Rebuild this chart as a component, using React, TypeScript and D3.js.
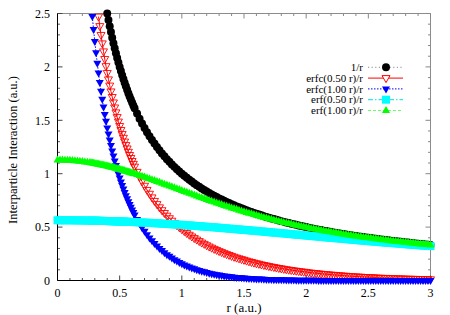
import React from 'react';
import * as d3 from 'd3';

// r grid (a.u.) — denser where the curves are steep
const radius = [
  0, 0.02, 0.04, 0.06, 0.08, 0.1, 0.12, 0.14, 0.16, 0.18, 0.2, 0.22, 0.24, 0.26,
  0.27, 0.28, 0.29, 0.3, 0.31, 0.32, 0.33, 0.34, 0.35, 0.36, 0.37, 0.38, 0.39, 0.4, 0.41, 0.42, 0.43, 0.44,
  0.45, 0.46, 0.47, 0.48, 0.49, 0.5, 0.51, 0.52, 0.53, 0.54, 0.55, 0.56, 0.57, 0.58, 0.59, 0.6, 0.61,
  0.62, 0.64, 0.66, 0.68, 0.7, 0.72, 0.74, 0.76, 0.78, 0.8, 0.82, 0.84, 0.86, 0.88, 0.9, 0.92, 0.94, 0.96, 0.98, 1,
  1.02, 1.04, 1.06, 1.08, 1.1, 1.12, 1.14, 1.16, 1.18, 1.2, 1.22, 1.24, 1.26, 1.28, 1.3, 1.32, 1.34, 1.36, 1.38, 1.4,
  1.42, 1.44, 1.46, 1.48, 1.5, 1.52, 1.54, 1.56, 1.58, 1.6, 1.62, 1.64, 1.66, 1.68, 1.7, 1.72, 1.74, 1.76, 1.78, 1.8,
  1.82, 1.84, 1.86, 1.88, 1.9, 1.92, 1.94, 1.96, 1.98, 2,
  2.02, 2.04, 2.06, 2.08, 2.1, 2.12, 2.14, 2.16, 2.18, 2.2, 2.22, 2.24, 2.26, 2.28, 2.3, 2.32, 2.34, 2.36, 2.38, 2.4,
  2.42, 2.44, 2.46, 2.48, 2.5, 2.52, 2.54, 2.56, 2.58, 2.6, 2.62, 2.64, 2.66, 2.68, 2.7, 2.72, 2.74, 2.76, 2.78, 2.8,
  2.82, 2.84, 2.86, 2.88, 2.9, 2.92, 2.94, 2.96, 2.98, 3,
];

// 1/r  (null = above the 2.5 ceiling)
const inverseR = [
  null, null, null, null, null, null, null, null, null, null, null, null, null, null,
  null, null, null, null, null, null, null, null, null, null, null, null, null, 2.5, 2.439, 2.381, 2.326, 2.273,
  2.222, 2.174, 2.128, 2.083, 2.041, 2, 1.961, 1.923, 1.887, 1.852, 1.818, 1.786, 1.754, 1.724, 1.695, 1.667, 1.639,
  1.613, 1.563, 1.515, 1.471, 1.429, 1.389, 1.351, 1.316, 1.282, 1.25, 1.22, 1.19, 1.163, 1.136, 1.111, 1.087, 1.064, 1.042, 1.02, 1,
  0.98, 0.962, 0.943, 0.926, 0.909, 0.893, 0.877, 0.862, 0.847, 0.833, 0.82, 0.806, 0.794, 0.781, 0.769, 0.758, 0.746, 0.735, 0.725, 0.714,
  0.704, 0.694, 0.685, 0.676, 0.667, 0.658, 0.649, 0.641, 0.633, 0.625, 0.617, 0.61, 0.602, 0.595, 0.588, 0.581, 0.575, 0.568, 0.562, 0.556,
  0.549, 0.543, 0.538, 0.532, 0.526, 0.521, 0.515, 0.51, 0.505, 0.5,
  0.495, 0.49, 0.485, 0.481, 0.476, 0.472, 0.467, 0.463, 0.459, 0.455, 0.45, 0.446, 0.442, 0.439, 0.435, 0.431, 0.427, 0.424, 0.42, 0.417,
  0.413, 0.41, 0.407, 0.403, 0.4, 0.397, 0.394, 0.391, 0.388, 0.385, 0.382, 0.379, 0.376, 0.373, 0.37, 0.368, 0.365, 0.362, 0.36, 0.357,
  0.355, 0.352, 0.35, 0.347, 0.345, 0.342, 0.34, 0.338, 0.336, 0.333,
];

// erfc(0.50 r)/r
const erfcHalf = [
  null, null, null, null, null, null, null, null, null, null, null, null, null, null,
  null, null, null, null, null, null, 2.471, 2.382, 2.299, 2.22, 2.145, 2.074, 2.007, 1.943, 1.883, 1.825, 1.77, 1.718,
  1.667, 1.62, 1.574, 1.53, 1.488, 1.447, 1.409, 1.371, 1.336, 1.301, 1.268, 1.236, 1.205, 1.175, 1.147, 1.119, 1.092,
  1.066, 1.017, 0.971, 0.927, 0.887, 0.848, 0.812, 0.778, 0.745, 0.715, 0.685, 0.658, 0.632, 0.607, 0.583, 0.56, 0.539, 0.518, 0.498, 0.48,
  0.462, 0.444, 0.428, 0.412, 0.397, 0.383, 0.369, 0.355, 0.343, 0.33, 0.318, 0.307, 0.296, 0.286, 0.275, 0.266, 0.256, 0.247, 0.239, 0.23,
  0.222, 0.214, 0.207, 0.2, 0.193, 0.186, 0.179, 0.173, 0.167, 0.161, 0.156, 0.15, 0.145, 0.14, 0.135, 0.13, 0.126, 0.121, 0.117, 0.113,
  0.109, 0.105, 0.101, 0.098, 0.094, 0.091, 0.088, 0.085, 0.082, 0.079,
  0.076, 0.073, 0.07, 0.068, 0.066, 0.063, 0.061, 0.059, 0.057, 0.054, 0.053, 0.051, 0.049, 0.047, 0.045, 0.044, 0.042, 0.04, 0.039, 0.037,
  0.036, 0.035, 0.033, 0.032, 0.031, 0.03, 0.029, 0.027, 0.026, 0.025, 0.024, 0.024, 0.023, 0.022, 0.021, 0.02, 0.019, 0.019, 0.018, 0.017,
  0.016, 0.016, 0.015, 0.015, 0.014, 0.013, 0.013, 0.012, 0.012, 0.011,
];

// erfc(1.00 r)/r
const erfcOne = [
  null, null, null, null, null, null, null, null, null, null, null, null, null, null,
  null, 2.472, 2.351, 2.238, 2.133, 2.034, 1.942, 1.855, 1.773, 1.696, 1.624, 1.555, 1.491, 1.429, 1.371, 1.316, 1.263, 1.213,
  1.166, 1.12, 1.077, 1.036, 0.997, 0.959, 0.923, 0.889, 0.856, 0.824, 0.794, 0.765, 0.737, 0.711, 0.685, 0.66, 0.637,
  0.614, 0.571, 0.531, 0.494, 0.46, 0.429, 0.399, 0.372, 0.346, 0.322, 0.3, 0.28, 0.26, 0.242, 0.226, 0.21, 0.195, 0.182, 0.169, 0.157,
  0.146, 0.136, 0.126, 0.117, 0.109, 0.101, 0.094, 0.087, 0.081, 0.075, 0.069, 0.064, 0.059, 0.055, 0.051, 0.047, 0.043, 0.04, 0.037, 0.034,
  0.031, 0.029, 0.027, 0.025, 0.023, 0.021, 0.019, 0.018, 0.016, 0.015, 0.014, 0.013, 0.011, 0.01, 0.01, 0.009, 0.008, 0.007, 0.007, 0.006,
  0.006, 0.005, 0.005, 0.004, 0.004, 0.003, 0.003, 0.003, 0.003, 0.002,
  0.002, 0.002, 0.002, 0.002, 0.001, 0.001, 0.001, 0.001, 0.001, 0.001, 0.001, 0.001, 0.001, 0.001, 0, 0, 0, 0, 0, 0,
  0, 0, 0, 0, 0, 0, 0, 0, 0, 0, 0, 0, 0, 0, 0, 0, 0, 0, 0, 0,
  0, 0, 0, 0, 0, 0, 0, 0, 0, 0,
];

// erf(0.50 r)/r
const erfHalf = [
  0.564, 0.564, 0.564, 0.564, 0.564, 0.564, 0.564, 0.563, 0.563, 0.563, 0.562, 0.562, 0.562, 0.561,
  0.561, 0.56, 0.56, 0.56, 0.56, 0.559, 0.559, 0.559, 0.558, 0.558, 0.558, 0.557, 0.557, 0.557, 0.556, 0.556, 0.556, 0.555,
  0.555, 0.554, 0.554, 0.554, 0.553, 0.553, 0.552, 0.552, 0.551, 0.551, 0.55, 0.55, 0.549, 0.549, 0.548, 0.548, 0.547,
  0.547, 0.546, 0.544, 0.543, 0.542, 0.541, 0.54, 0.538, 0.537, 0.536, 0.534, 0.533, 0.531, 0.53, 0.528, 0.527, 0.525, 0.524, 0.522, 0.521,
  0.519, 0.517, 0.516, 0.514, 0.512, 0.51, 0.509, 0.507, 0.505, 0.503, 0.501, 0.5, 0.498, 0.496, 0.494, 0.492, 0.49, 0.488, 0.486, 0.484,
  0.482, 0.48, 0.478, 0.476, 0.474, 0.472, 0.47, 0.468, 0.466, 0.464, 0.462, 0.46, 0.458, 0.455, 0.453, 0.451, 0.449, 0.447, 0.445, 0.443,
  0.441, 0.439, 0.436, 0.434, 0.432, 0.43, 0.428, 0.426, 0.424, 0.421,
  0.419, 0.417, 0.415, 0.413, 0.411, 0.409, 0.406, 0.404, 0.402, 0.4, 0.398, 0.396, 0.394, 0.392, 0.39, 0.388, 0.386, 0.383, 0.381, 0.379,
  0.377, 0.375, 0.373, 0.371, 0.369, 0.367, 0.365, 0.363, 0.361, 0.359, 0.357, 0.355, 0.353, 0.352, 0.35, 0.348, 0.346, 0.344, 0.342, 0.34,
  0.338, 0.336, 0.335, 0.333, 0.331, 0.329, 0.327, 0.326, 0.324, 0.322,
];

// erf(1.00 r)/r
const erfOne = [
  1.128, 1.128, 1.128, 1.127, 1.126, 1.125, 1.123, 1.121, 1.119, 1.116, 1.114, 1.11, 1.107, 1.104,
  1.102, 1.1, 1.098, 1.095, 1.093, 1.091, 1.089, 1.087, 1.084, 1.081, 1.079, 1.076, 1.074, 1.071, 1.068, 1.066, 1.063, 1.06,
  1.057, 1.054, 1.05, 1.047, 1.044, 1.041, 1.038, 1.034, 1.031, 1.028, 1.024, 1.021, 1.017, 1.014, 1.01, 1.007, 1.003,
  0.999, 0.992, 0.984, 0.976, 0.968, 0.96, 0.952, 0.944, 0.936, 0.928, 0.919, 0.911, 0.902, 0.894, 0.885, 0.877, 0.868, 0.86, 0.851, 0.843,
  0.834, 0.826, 0.817, 0.809, 0.8, 0.792, 0.783, 0.775, 0.767, 0.759, 0.75, 0.742, 0.734, 0.726, 0.719, 0.711, 0.703, 0.695, 0.688, 0.68,
  0.673, 0.666, 0.658, 0.651, 0.644, 0.637, 0.63, 0.624, 0.617, 0.61, 0.604, 0.597, 0.591, 0.585, 0.579, 0.573, 0.567, 0.561, 0.555, 0.55,
  0.544, 0.538, 0.533, 0.528, 0.523, 0.517, 0.512, 0.507, 0.503, 0.498,
  0.493, 0.488, 0.484, 0.479, 0.475, 0.47, 0.466, 0.462, 0.458, 0.454, 0.45, 0.446, 0.442, 0.438, 0.434, 0.431, 0.427, 0.423, 0.42, 0.416,
  0.413, 0.41, 0.406, 0.403, 0.4, 0.397, 0.394, 0.391, 0.388, 0.385, 0.382, 0.379, 0.376, 0.373, 0.37, 0.368, 0.365, 0.362, 0.36, 0.357,
  0.355, 0.352, 0.35, 0.347, 0.345, 0.342, 0.34, 0.338, 0.336, 0.333,
];

const seriesLabels = ['1/r', 'erfc(0.50 r)/r', 'erfc(1.00 r)/r', 'erf(0.50 r)/r', 'erf(1.00 r)/r'];
const xTicks = [0, 0.5, 1, 1.5, 2, 2.5, 3];
const yTicks = [0, 0.5, 1, 1.5, 2, 2.5];

const FONT = 'Liberation Serif, DejaVu Serif, serif';

const series = [
  { label: seriesLabels[0], values: inverseR, color: '#000000', line: '#8a8a8a', dash: '1.2,2.4', marker: 'circle', open: false },
  { label: seriesLabels[1], values: erfcHalf, color: '#ff0000', line: '#ff0000', dash: '', marker: 'down', open: true },
  { label: seriesLabels[2], values: erfcOne, color: '#0000ff', line: '#0000ff', dash: '1.5,1.5', marker: 'down', open: false },
  { label: seriesLabels[3], values: erfHalf, color: '#00ffff', line: '#00e0e0', dash: '5,2,1.5,2', marker: 'square', open: false },
  { label: seriesLabels[4], values: erfOne, color: '#00ff00', line: '#66ff66', dash: '3,2', marker: 'up', open: false },
];

const markerPath = (kind) => {
  if (kind === 'circle') return d3.symbol(d3.symbolCircle, 50)();
  if (kind === 'square') return 'M-4,-4h8v8h-8Z';
  if (kind === 'up') return 'M-4,2.5L4,2.5L0,-4.5Z';
  return 'M-4,-2.5L4,-2.5L0,4.5Z';
};

const App = () => {
  const x = d3.scaleLinear().domain([0, 3]).range([57.5, 430.5]);
  const y = d3.scaleLinear().domain([0, 2.5]).range([280.5, 13.5]);
  const minorX = d3.range(0, 31).map(i => i / 10).filter(v => Math.abs(v * 2 - Math.round(v * 2)) > 1e-6);
  const minorY = d3.range(0, 26).map(i => i / 10).filter(v => Math.abs(v * 2 - Math.round(v * 2)) > 1e-6);

  const line = d3.line().defined(d => d[1] !== null).x(d => x(d[0])).y(d => y(d[1]));

  const legendY = i => 67.3 + i * 10.8;

  return (
    <svg width={450} height={315} style={{ position: 'absolute', left: 0, top: 0, background: '#fff', fontFamily: FONT }}>
      <rect x={0} y={0} width={450} height={315} fill="#fff" />
      {/* frame */}
      <line x1={x(0)} x2={x(3)} y1={y(2.5)} y2={y(2.5)} stroke="#8c8c8c" />
      <line x1={x(3)} x2={x(3)} y1={y(0)} y2={y(2.5)} stroke="#8c8c8c" />
      {/* ticks */}
      {xTicks.map(t => (
        <g key={'xt' + t} stroke="#444">
          <line x1={x(t)} x2={x(t)} y1={y(0)} y2={y(0) - 5} />
          <line x1={x(t)} x2={x(t)} y1={y(2.5)} y2={y(2.5) + 5} stroke="#888" />
        </g>
      ))}
      {minorX.map(t => (
        <g key={'xm' + t} stroke="#555">
          <line x1={x(t)} x2={x(t)} y1={y(0)} y2={y(0) - 2.5} />
          <line x1={x(t)} x2={x(t)} y1={y(2.5)} y2={y(2.5) + 2.5} stroke="#888" />
        </g>
      ))}
      {yTicks.map(t => (
        <g key={'yt' + t} stroke="#444">
          <line x1={x(0)} x2={x(0) + 5} y1={y(t)} y2={y(t)} />
          <line x1={x(3)} x2={x(3) - 5} y1={y(t)} y2={y(t)} stroke="#888" />
        </g>
      ))}
      {minorY.map(t => (
        <g key={'ym' + t} stroke="#555">
          <line x1={x(0)} x2={x(0) + 2.5} y1={y(t)} y2={y(t)} />
          <line x1={x(3)} x2={x(3) - 2.5} y1={y(t)} y2={y(t)} stroke="#888" />
        </g>
      ))}
      <line x1={x(0)} x2={x(3)} y1={y(0)} y2={y(0)} stroke="#000" />
      <line x1={x(0)} x2={x(0)} y1={y(0)} y2={y(2.5)} stroke="#000" />

      {/* tick labels */}
      {xTicks.map(t => (
        <text key={'xl' + t} x={x(t)} y={296.5} fontSize={12} textAnchor="middle">{t}</text>
      ))}
      {yTicks.map(t => (
        <text key={'yl' + t} x={50} y={y(t)} dy="0.35em" fontSize={12} textAnchor="end">{t}</text>
      ))}
      <text x={244} y={312} fontSize={13} textAnchor="middle">r (a.u.)</text>
      <text transform={`translate(16.5,${(y(0) + y(2.5)) / 2 + 3}) rotate(-90)`} fontSize={12.5} textAnchor="middle">
        Interparticle Interaction (a.u.)
      </text>

      {/* series */}
      {series.map(s => {
        const pts = s.values.map((v, i) => [radius[i], v]).filter(d => d[0] !== undefined && d[1] !== null && d[1] <= 2.5);
        const path = markerPath(s.marker);
        return (
          <g key={s.label}>
            <path d={line(s.values.map((v, i) => [radius[i], v !== null && v <= 2.5 ? v : null]))}
              fill="none" stroke={s.line} strokeWidth={1} strokeDasharray={s.dash} />
            {pts.map((d, i) => (
              <path key={i} d={path} transform={`translate(${x(d[0])},${y(d[1])})`}
                fill={s.open ? 'none' : s.color} stroke={s.open ? s.color : 'none'} strokeWidth={0.9} />
            ))}
          </g>
        );
      })}

      {/* legend */}
      {series.map((s, i) => (
        <g key={'lg' + i}>
          <text x={363} y={legendY(i)} dy="0.33em" fontSize={11} textAnchor="end">{s.label}</text>
          <line x1={368} x2={403} y1={legendY(i)} y2={legendY(i)} stroke={s.line} strokeDasharray={s.dash} />
          <path d={markerPath(s.marker)} transform={`translate(386,${legendY(i)})`}
            fill={s.open ? '#fff' : s.color} stroke={s.open ? s.color : 'none'} strokeWidth={1} />
        </g>
      ))}
    </svg>
  );
};

export default App;
